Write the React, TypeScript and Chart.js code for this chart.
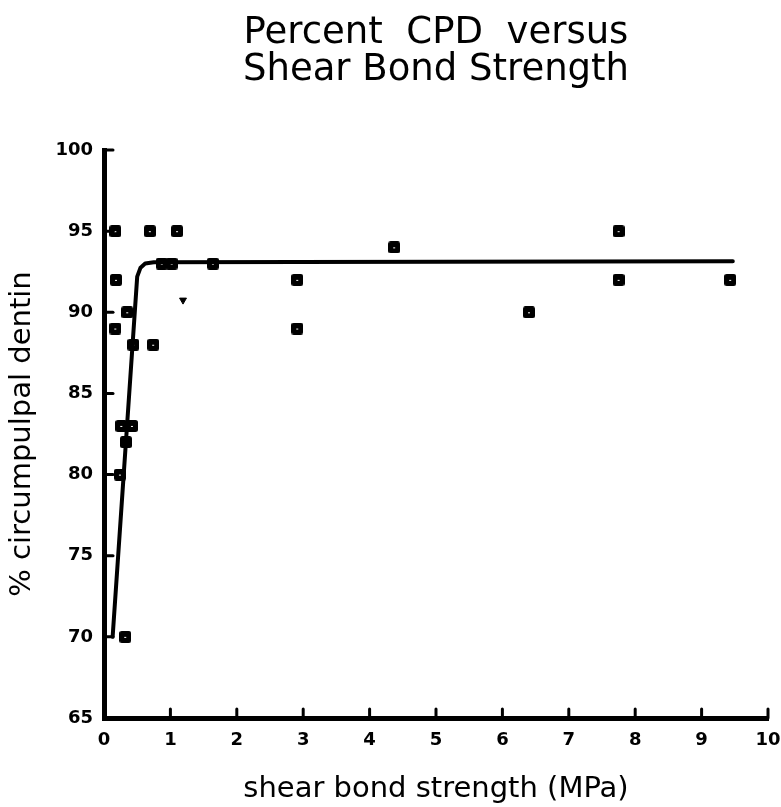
import React, { useEffect, useRef } from "react";
import { Chart, registerables } from "chart.js";

Chart.register(...registerables);

// Scatter observations: shear bond strength (MPa) vs % circumpulpal dentin
const pointX = [0.17, 0.69, 1.10, 0.18, 0.87, 1.02, 1.64, 0.35, 0.17, 0.44, 0.74, 0.26, 0.42, 0.33, 0.24, 0.32, 2.91, 2.91, 4.37, 6.40, 7.75, 7.75, 9.43];
const pointY = [95, 95, 95, 92, 93, 93, 93, 90, 89, 88, 88, 83, 83, 82, 80, 70, 92, 89, 94, 90, 92, 95, 92];

// Odd small marker
const oddX = [1.19];
const oddY = [90.75];

// Fitted curve
const fitX = [0.13, 0.5, 0.55, 0.62, 0.75, 9.47];
const fitY = [70, 92.2, 92.75, 93.0, 93.08, 93.15];

const xTicks = [0, 1, 2, 3, 4, 5, 6, 7, 8, 9, 10];
const yTicks = [65, 70, 75, 80, 85, 90, 95, 100];

const titleLines = ["Percent  CPD  versus", "Shear Bond Strength"];
const xTitle = "shear bond strength (MPa)";
const yTitle = "% circumpulpal dentin";

function makeMarker(): HTMLCanvasElement {
  const c = document.createElement("canvas");
  c.width = 12;
  c.height = 12;
  const g = c.getContext("2d")!;
  g.fillStyle = "#000";
  g.beginPath();
  const r = 2.5;
  g.moveTo(r, 0);
  g.lineTo(12 - r, 0);
  g.quadraticCurveTo(12, 0, 12, r);
  g.lineTo(12, 12 - r);
  g.quadraticCurveTo(12, 12, 12 - r, 12);
  g.lineTo(r, 12);
  g.quadraticCurveTo(0, 12, 0, 12 - r);
  g.lineTo(0, r);
  g.quadraticCurveTo(0, 0, r, 0);
  g.fill();
  g.fillStyle = "#fff";
  g.fillRect(5, 6, 2, 1);
  return c;
}

const innerTicks = {
  id: "innerTicks",
  afterDatasetsDraw(chart: any) {
    const { ctx, chartArea, scales } = chart;
    const { left, bottom } = chartArea;
    ctx.save();
    ctx.strokeStyle = "#000";
    ctx.lineWidth = 3;
    ctx.lineCap = "round";
    scales.y.ticks.forEach((t: any) => {
      if (t.value === yTicks[0]) return;
      const p = scales.y.getPixelForValue(t.value);
      ctx.beginPath();
      ctx.moveTo(left, p);
      ctx.lineTo(left + 9, p);
      ctx.stroke();
    });
    scales.x.ticks.forEach((t: any) => {
      if (t.value === xTicks[0]) return;
      const p = scales.x.getPixelForValue(t.value);
      ctx.beginPath();
      ctx.moveTo(p, bottom);
      ctx.lineTo(p, bottom - 9);
      ctx.stroke();
    });
    ctx.restore();
  },
};

export default function App() {
  const ref = useRef<HTMLCanvasElement | null>(null);

  useEffect(() => {
    if (!ref.current) return;
    const marker = makeMarker();
    const chart = new Chart(ref.current, {
      type: "scatter",
      data: {
        datasets: [
          {
            type: "line",
            label: "fit",
            data: fitX.map((x, i) => ({ x, y: fitY[i] })),
            borderColor: "#000",
            borderWidth: 4,
            pointRadius: 0,
            tension: 0,
            fill: false,
            borderCapStyle: "round",
            borderJoinStyle: "round",
          } as any,
          {
            label: "data",
            data: pointX.map((x, i) => ({ x, y: pointY[i] })),
            pointStyle: marker as any,
            pointRadius: 6,
            backgroundColor: "#000",
            borderColor: "#000",
          },
          {
            label: "odd",
            data: oddX.map((x, i) => ({ x, y: oddY[i] })),
            pointStyle: "triangle",
            rotation: 180,
            pointRadius: 4,
            backgroundColor: "#000",
            borderColor: "#000",
          } as any,
        ],
      },
      options: {
        animation: false,
        responsive: false,
        devicePixelRatio: 1,
        layout: { padding: { left: 0, right: 13, top: 0, bottom: 0 } },
        plugins: {
          legend: { display: false },
          tooltip: { enabled: false },
          title: {
            display: true,
            text: titleLines,
            fullSize: false,
            color: "#000",
            font: { family: "DejaVu Sans", size: 37, weight: "normal", lineHeight: 1.0 },
            padding: { top: 15, bottom: 61 },
          },
        },
        scales: {
          x: {
            type: "linear",
            min: 0,
            max: 10,
            afterBuildTicks: (s: any) => {
              s.ticks = xTicks.map((v) => ({ value: v }));
            },
            afterFit: (s: any) => {
              s.height = 89;
              s.paddingRight = 0;
              s.paddingLeft = 0;
            },
            grid: { display: false, drawTicks: false },
            border: { display: true, color: "#000", width: 5 },
            ticks: {
              color: "#000",
              padding: 12,
              maxRotation: 0,
              font: { family: "DejaVu Sans", size: 18, weight: "bold" },
            },
            title: {
              display: true,
              text: xTitle,
              color: "#000",
              font: { family: "DejaVu Sans", size: 29, weight: "normal" },
              padding: { top: 0, bottom: 0 },
            },
          },
          y: {
            type: "linear",
            min: 65,
            max: 100,
            afterBuildTicks: (s: any) => {
              s.ticks = yTicks.map((v) => ({ value: v }));
            },
            afterFit: (s: any) => {
              s.width = 104;
            },
            grid: { display: false, drawTicks: false },
            border: { display: true, color: "#000", width: 5 },
            ticks: {
              color: "#000",
              padding: 11,
              font: { family: "DejaVu Sans", size: 18, weight: "bold" },
            },
            title: {
              display: true,
              text: yTitle,
              color: "#000",
              font: { family: "DejaVu Sans", size: 29, weight: "normal" },
              padding: { top: 5, bottom: 0 },
            },
          },
        },
      },
      plugins: [innerTicks],
    });
    return () => chart.destroy();
  }, []);

  return (
    <div style={{ position: "absolute", left: 0, top: 0, width: 781, height: 807, background: "#fff" }}>
      <canvas ref={ref} width={781} height={807} style={{ display: "block" }} />
    </div>
  );
}
